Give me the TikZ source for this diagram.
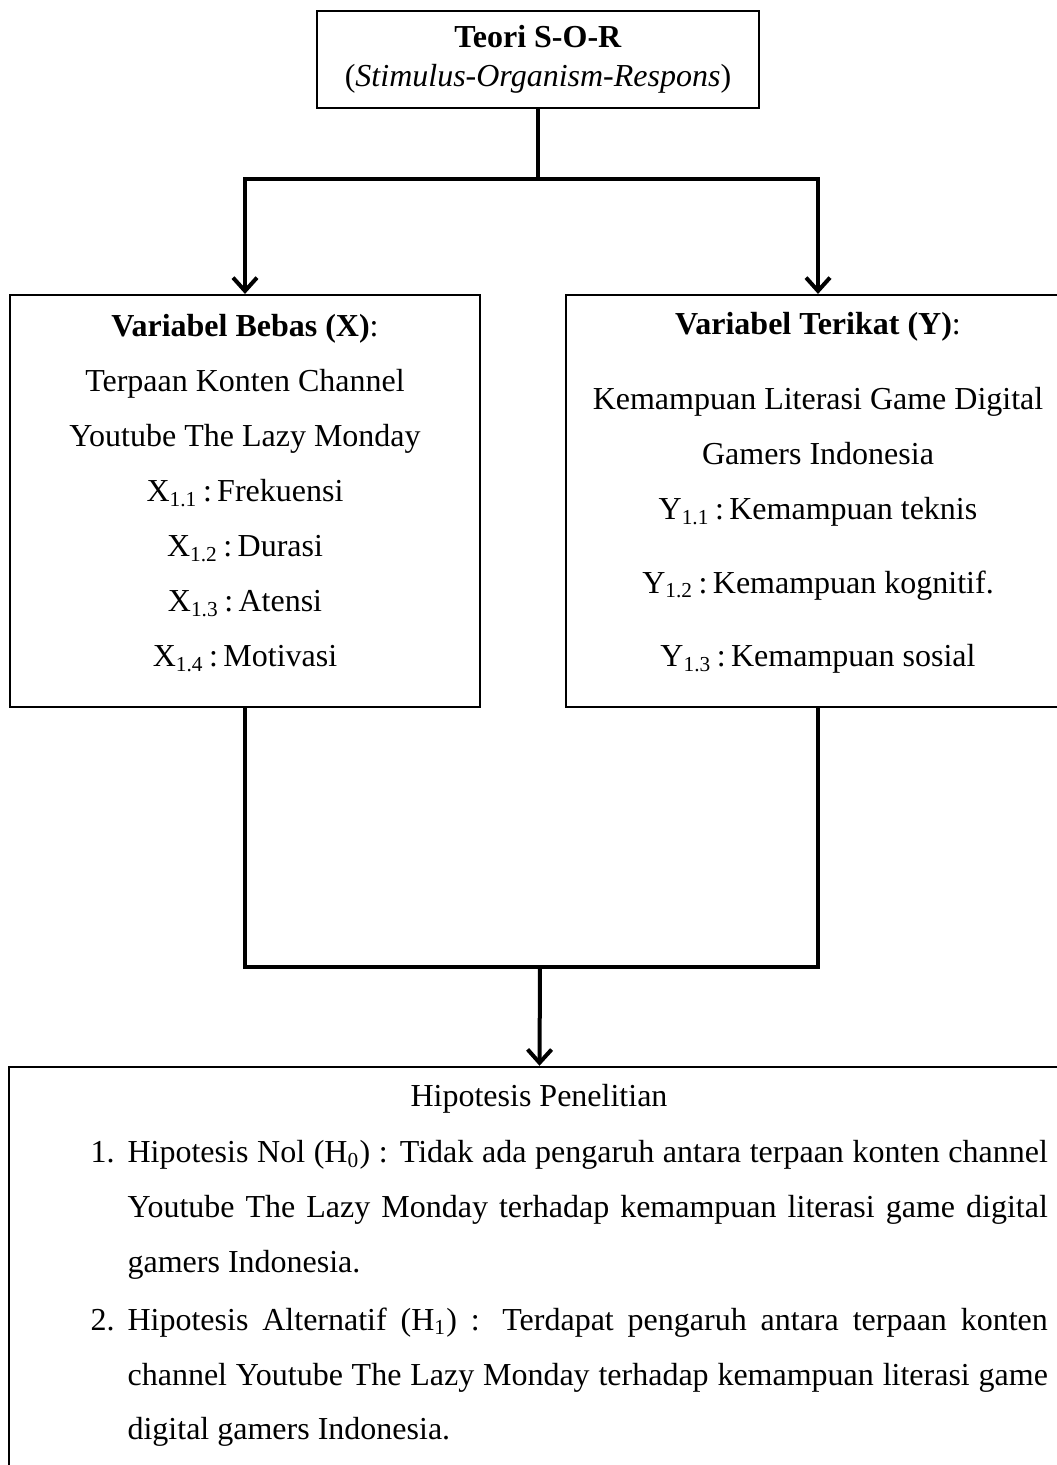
\documentclass[tikz,border=0pt]{standalone}
\usepackage{fontspec}
\setmainfont{Liberation Serif}
\usetikzlibrary{arrows.meta}

\begin{document}
\begin{tikzpicture}[x=0.375pt, y=-0.375pt,
    box/.style={draw, line width=0.8pt, inner sep=0pt},
    txt/.style={font=\fontsize{12pt}{20.6pt}\selectfont, align=center, inner sep=0pt},
    link/.style={line width=1.5pt},
    >={Straight Barb[length=5pt,width=9pt]}]
      \useasboundingbox (0,0) rectangle (1057,1465);
      \clip (0,0) rectangle (1057,1465);

      \node [box, txt, font=\fontsize{12pt}{14.6pt}\selectfont, minimum width=165.75pt, minimum height=36.4pt] (sor) at (538,59.5)
        {\textbf{Teori S-O-R}\\(\textit{Stimulus-Organism-Respons})};

      \node [box, minimum width=176.25pt, minimum height=154.5pt] (varx) at (245,501) {};
      \node [txt] (varxtext) at (245,493)
        {\textbf{Variabel Bebas (X)}:\\
         Terpaan Konten Channel\\
         Youtube The Lazy Monday\\
         X\textsubscript{1.1}\,:\,Frekuensi\\
         X\textsubscript{1.2}\,:\,Durasi\\
         X\textsubscript{1.3}\,:\,Atensi\\
         X\textsubscript{1.4}\,:\,Motivasi};

      \node [box, minimum width=189pt, minimum height=154.5pt] (vary) at (818,501) {};
      \node [txt] (varytext) at (818,493)
        {\textbf{Variabel Terikat (Y)}:\\[7.5pt]
         Kemampuan Literasi Game Digital\\
         Gamers Indonesia\\
         Y\textsubscript{1.1}\,:\,Kemampuan teknis\\[7pt]
         Y\textsubscript{1.2}\,:\,Kemampuan kognitif.\\[7pt]
         Y\textsubscript{1.3}\,:\,Kemampuan sosial};

      \node [box, minimum width=397.9pt, minimum height=155pt] (hip) at (539.5,1273.5) {};
      \node [txt] (hiptitle) at (539,1099) {Hipotesis Penelitian};
      \node [txt, text width=359pt, align=justify, anchor=north west] (hip1) at (90,1140)
        {\noindent\hangindent=13.9pt\hangafter=1\makebox[13.9pt][l]{1.}Hipotesis Nol (H\textsubscript{0}) : Tidak ada pengaruh antara terpaan konten channel\linebreak
         Youtube The Lazy Monday terhadap kemampuan literasi game digital\linebreak
         gamers Indonesia.\par};
      \node [txt, text width=359pt, align=justify, anchor=north west] (hip2) at (90,1307)
        {\noindent\hangindent=13.9pt\hangafter=1\makebox[13.9pt][l]{2.}Hipotesis Alternatif (H\textsubscript{1}) : Terdapat pengaruh antara terpaan konten\linebreak
         channel Youtube The Lazy Monday terhadap kemampuan literasi game\linebreak
         digital gamers Indonesia.\par};

      \coordinate (split) at (538,179);
      \coordinate (join) at (540,967);
      \draw [link] (sor.south) -- (split);
      \draw [link,->] (split) -| (varx.north);
      \draw [link,->] (split) -| (vary.north);
      \draw [link] (varx.south) |- (join) -| (vary.south);
      \draw [link,->] (join) -- (hip.north);
\end{tikzpicture}
\end{document}
